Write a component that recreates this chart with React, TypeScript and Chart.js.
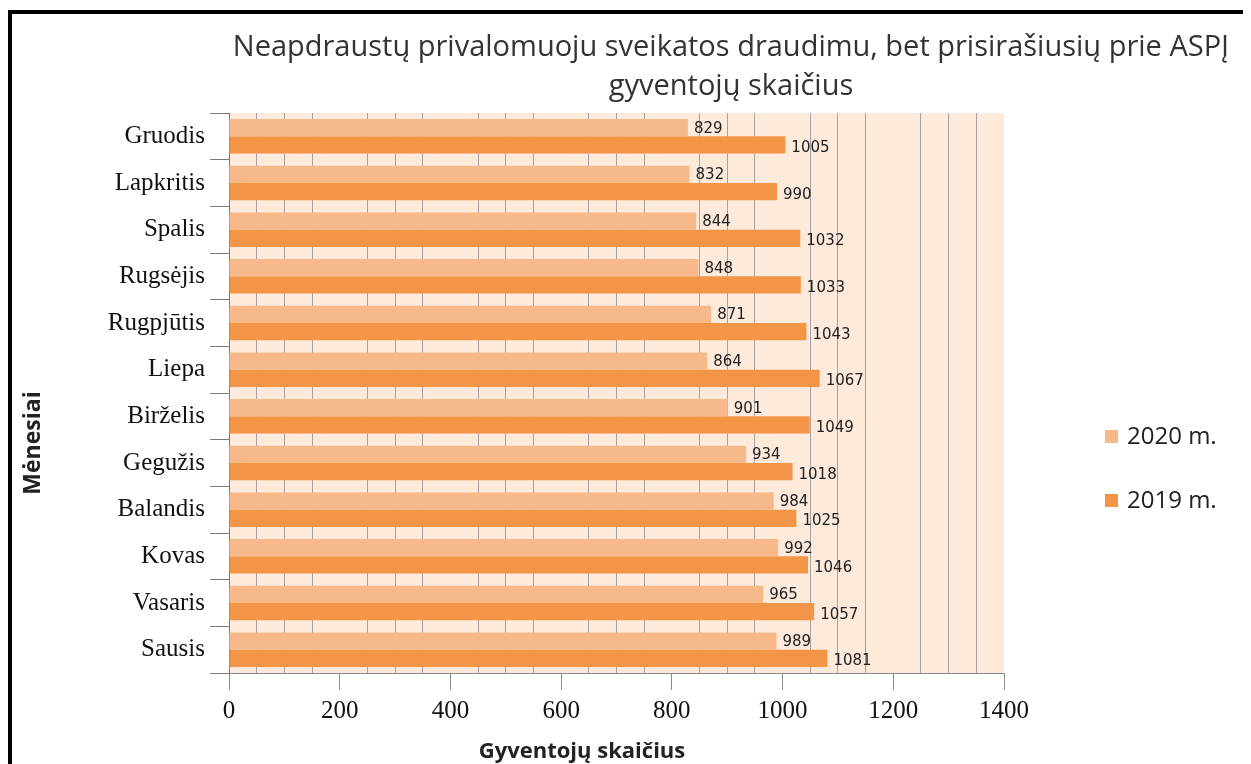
import React, { useEffect, useRef } from 'react';
import { Chart, registerables } from 'chart.js';

Chart.register(...registerables);

const months = ['Gruodis', 'Lapkritis', 'Spalis', 'Rugsėjis', 'Rugpjūtis', 'Liepa', 'Birželis', 'Gegužis', 'Balandis', 'Kovas', 'Vasaris', 'Sausis'];
const values2020 = [829, 832, 844, 848, 871, 864, 901, 934, 984, 992, 965, 989];
const values2019 = [1005, 990, 1032, 1033, 1043, 1067, 1049, 1018, 1025, 1046, 1057, 1081];
const seriesNames = ['2020 m.', '2019 m.'];
const seriesColors = ['#f7b98a', '#f39547'];
const titleLines = ['Neapdraustų privalomuoju sveikatos draudimu, bet prisirašiusių prie ASPĮ', 'gyventojų skaičius'];
const xAxisTitle = 'Gyventojų skaičius';
const yAxisTitle = 'Mėnesiai';
const xMin = 0;
const xMax = 1400;
const xStep = 50;
const xLabelStep = 200;

const decorPlugin = {
  id: 'decor',
  beforeDraw(chart: any) {
    const { ctx, chartArea: a } = chart;
    ctx.save();
    ctx.fillStyle = '#fdeadb';
    ctx.fillRect(a.left, a.top, a.right - a.left, a.bottom - a.top);
    ctx.restore();
  },
  afterDatasetsDraw(chart: any) {
    const { ctx } = chart;
    ctx.save();
    ctx.font = '15px "DejaVu Sans"';
    ctx.fillStyle = '#222';
    ctx.textAlign = 'left';
    ctx.textBaseline = 'middle';
    chart.data.datasets.forEach((ds: any, di: number) => {
      const meta = chart.getDatasetMeta(di);
      meta.data.forEach((bar: any, i: number) => {
        ctx.fillText(String(ds.data[i]), bar.x + 6, bar.y + (di === 0 ? 1 : 3));
      });
    });
    ctx.restore();
  },
  afterDraw(chart: any) {
    const { ctx } = chart;
    ctx.save();
    // title
    ctx.fillStyle = '#333';
    ctx.textAlign = 'center';
    ctx.textBaseline = 'middle';
    ctx.font = '29px "Open Sans"';
    ctx.fillText(titleLines[0], 719, 34);
    ctx.fillText(titleLines[1], 719, 73);
    // x axis title
    ctx.fillStyle = '#222';
    ctx.font = 'bold 22px "Open Sans"';
    ctx.fillText(xAxisTitle, 570, 738);
    // y axis title
    ctx.save();
    ctx.translate(21, 429);
    ctx.rotate(-Math.PI / 2);
    ctx.font = 'bold 23px "Open Sans"';
    ctx.fillText(yAxisTitle, 0, 0);
    ctx.restore();
    // legend
    ctx.textAlign = 'left';
    ctx.font = '24px "Open Sans"';
    const ys = [422, 486];
    seriesNames.forEach((name, i) => {
      ctx.fillStyle = seriesColors[i];
      ctx.fillRect(1093, ys[i] - 6, 13, 13);
      ctx.fillStyle = '#222';
      ctx.fillText(name, 1115, ys[i] + 1);
    });
    ctx.restore();
  },
};

export default function App() {
  const ref = useRef<HTMLCanvasElement | null>(null);
  useEffect(() => {
    document.body.style.overflow = 'hidden';
    if (!ref.current) return;
    const chart = new Chart(ref.current, {
      type: 'bar',
      data: {
        labels: months,
        datasets: [
          { label: seriesNames[0], data: values2020, backgroundColor: seriesColors[0], barPercentage: 1, categoryPercentage: 0.74 },
          { label: seriesNames[1], data: values2019, backgroundColor: seriesColors[1], barPercentage: 1, categoryPercentage: 0.74 },
        ],
      },
      options: {
        indexAxis: 'y',
        animation: false,
        responsive: true,
        maintainAspectRatio: false,
        layout: { padding: { top: 99, right: 239, left: 0, bottom: 0 } },
        plugins: {
          legend: { display: false },
          title: { display: false },
          tooltip: { enabled: false },
        },
        scales: {
          x: {
            type: 'linear',
            min: xMin,
            max: xMax,
            afterFit(scale: any) { scale.height = 91; },
            ticks: {
              stepSize: xStep,
              autoSkip: false,
              maxRotation: 0,
              padding: 6,
              color: '#111',
              font: { family: '"Liberation Serif"', size: 25 },
              callback: (v: any) => (Number(v) % xLabelStep === 0 ? String(v) : ''),
            },
            grid: {
              color: (c: any) => (c.tick && c.tick.value % xLabelStep === 0 ? 'rgba(0,0,0,0)' : '#a3a3a3'),
              tickColor: (c: any) => (c.tick && c.tick.value % xLabelStep === 0 ? '#8a8a8a' : 'rgba(0,0,0,0)'),
              tickLength: 17,
              lineWidth: 1,
            },
            border: { display: true, color: '#8a8a8a', width: 1 },
          },
          y: {
            type: 'category',
            afterFit(scale: any) { scale.width = 217; },
            ticks: {
              padding: 5,
              color: '#111',
              font: { family: '"Liberation Serif"', size: 25 },
            },
            grid: {
              offset: true,
              drawOnChartArea: false,
              tickLength: 19,
              color: '#7a7a7a',
              tickColor: '#7a7a7a',
            },
            border: { display: true, color: '#7a7a7a', width: 1 },
          },
        },
      },
      plugins: [decorPlugin],
    });
    return () => chart.destroy();
  }, []);
  return (
    <div style={{ marginTop: 2, borderLeft: '4px solid #000', borderTop: '4px solid #000', height: 750, position: 'relative' }}>
      <canvas ref={ref} />
    </div>
  );
}
